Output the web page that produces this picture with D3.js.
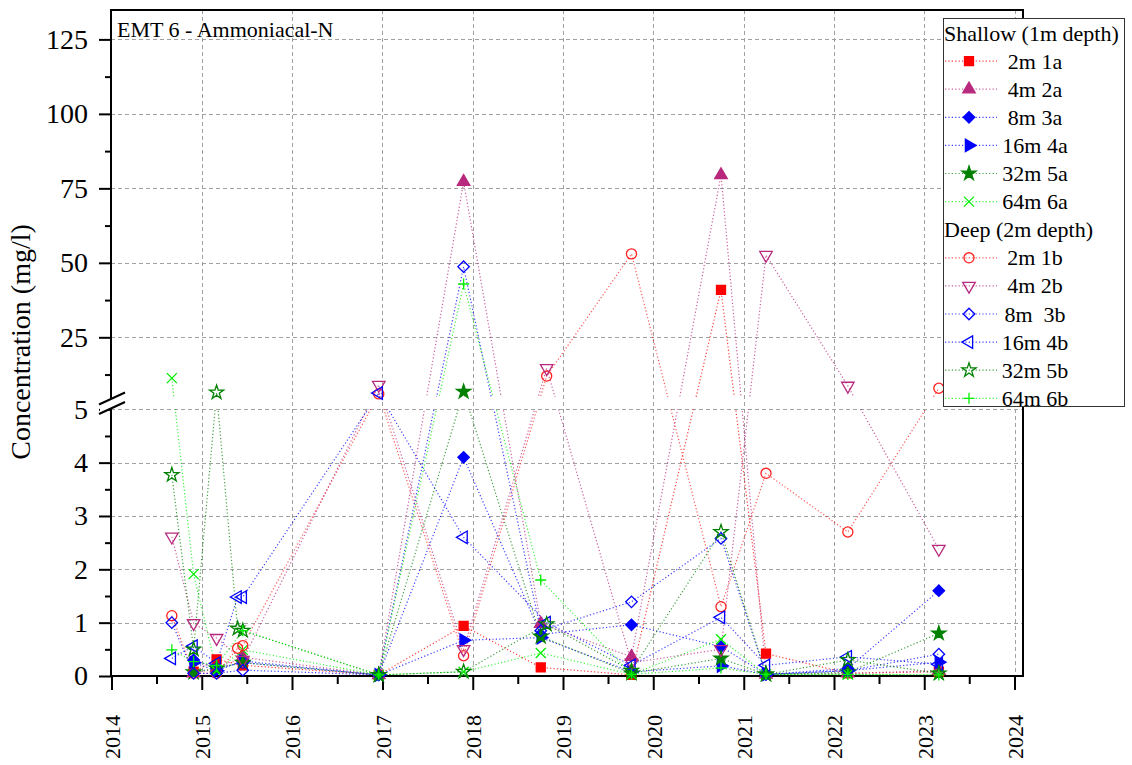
<!DOCTYPE html>
<html><head><meta charset="utf-8">
<script src="https://cdn.jsdelivr.net/npm/d3@7"></script>
<style>body{margin:0;background:#fff}svg{display:block;font-family:"Liberation Serif","Times New Roman",serif}</style>
</head><body><svg id="c" width="1132" height="765"></svg>
<script>
// ---- data ----
const sampleDates = ["2014-09-02","2014-11-29","2015-03-02","2015-05-26","2015-06-16","2016-12-17","2017-11-25","2018-10-03","2018-10-27","2019-10-05","2020-10-01","2021-04-01","2022-02-26","2023-03-01"];
const s1a = [null,0.08,0.31,null,0.2,0.02,0.94,0.16,null,0.02,40.9,0.42,0.05,0.08];
const s2a = [null,0.05,0.15,null,0.35,0.02,77.2,0.98,null,0.36,79.5,0.03,0.05,0.1];
const s3a = [null,0.3,0.15,null,0.25,0.02,4.1,0.78,null,0.96,0.55,0.03,0.14,1.6];
const s4a = [null,0.25,0.1,null,0.28,0.02,0.67,0.72,null,0.08,0.19,0.03,0.1,0.26];
const s5a = [null,0.07,0.14,null,0.25,0.02,6.75,0.74,null,0.05,0.33,0.03,0.07,0.8];
const s6a = [11.3,1.91,0.1,null,0.49,0.02,0.08,0.43,null,0.03,0.69,0.03,0.03,0.02];
const s1b = [1.13,0.05,0.05,0.52,0.57,6.0,0.38,null,12.0,53.0,1.3,3.8,2.7,7.9];
const s2b = [2.61,0.99,0.71,null,0.3,9.0,0.5,null,14.6,0.25,0.5,52.6,8.7,2.38];
const s3b = [1.0,0.05,0.05,null,0.11,0.02,48.7,0.85,null,1.39,2.58,0.03,0.1,0.41];
const s4b = [0.33,0.56,0.24,1.48,1.48,6.3,2.6,null,1.0,0.2,1.1,0.2,0.36,0.22];
const s5b = [3.77,0.5,6.5,0.89,0.85,0.02,0.08,null,0.97,0.1,2.7,0.03,0.3,0.05];
const s6b = [0.49,0.27,0.2,null,0.85,0.02,42.9,1.8,null,0.03,0.15,0.03,0.03,0.02];
const seriesNames = ["2m 1a","4m 2a","8m 3a","16m 4a","32m 5a","64m 6a","2m 1b","4m 2b","8m  3b","16m 4b","32m 5b","64m 6b"];
const yearTicks = [2014,2015,2016,2017,2018,2019,2020,2021,2022,2023,2024];
const yLowTicks = [0,1,2,3,4,5];
const yHighTicks = [25,50,75,100,125];
const titleText = "EMT 6 - Ammoniacal-N";
const yTitle = "Concentration (mg/l)";
const legendHeaders = ["Shallow (1m depth)","Deep (2m depth)"];

// ---- styles ----
const FONT = "'Liberation Serif','Times New Roman',serif";
const MAG = "#b8297e";
const styles = [
  {c:"#ff0000",s:"square",f:true},{c:MAG,s:"triUp",f:true},{c:"#0000ff",s:"diamond",f:true},
  {c:"#0000ff",s:"triRight",f:true},{c:"#008000",s:"star",f:true},{c:"#00ee00",s:"x",f:false},
  {c:"#ff2020",s:"circle",f:false},{c:MAG,s:"triDown",f:false},{c:"#0000ff",s:"diamond",f:false},
  {c:"#0000ff",s:"triLeft",f:false},{c:"#008000",s:"star",f:false},{c:"#00ee00",s:"plus",f:false}
];
const allValues = [s1a,s2a,s3a,s4a,s5a,s6a,s1b,s2b,s3b,s4b,s5b,s6b];

const svg = d3.select("#c");
const parse = d3.timeParse("%Y-%m-%d");
const dates = sampleDates.map(parse);
const L=111, R=1023, T=10, B=676;
const x = d3.scaleTime().domain([new Date(2014,0,1), new Date(2024,0,1)]).range([111.5,1014.5]);
const yLow = d3.scaleLinear().domain([0,5]).range([676,409.3]);
const yHigh = d3.scaleLinear().domain([5,135]).range([396.9,9.6]);
const y = v => v <= 5 ? yLow(v) : yHigh(v);

// clip for lines: two panels
const defs = svg.append("defs");
const cp = defs.append("clipPath").attr("id","panels");
cp.append("rect").attr("x",L).attr("y",yLow(5)).attr("width",R-L).attr("height",B-yLow(5));
cp.append("rect").attr("x",L).attr("y",T).attr("width",R-L).attr("height",yHigh(5)-T);

// gridlines
const grid = svg.append("g").attr("stroke","#a0a0a0").attr("stroke-width",1).attr("stroke-dasharray","4,3");
yearTicks.slice(1).forEach(yr=>{const xx=Math.round(x(new Date(yr,0,1)))+0.5;
  grid.append("line").attr("x1",xx).attr("x2",xx).attr("y1",T).attr("y2",B);});
yLowTicks.slice(1).forEach(v=>{const yy=Math.round(yLow(v))+0.5;
  grid.append("line").attr("x1",L).attr("x2",R).attr("y1",yy).attr("y2",yy);});
yHighTicks.forEach(v=>{const yy=Math.round(yHigh(v))+0.5;
  grid.append("line").attr("x1",L).attr("x2",R).attr("y1",yy).attr("y2",yy);});

// lines
const lineGen = d3.line().x(d=>x(d.d)).y(d=>y(d.v));
const linesG = svg.append("g").attr("clip-path","url(#panels)");
allValues.forEach((vals,i)=>{
  const pts = vals.map((v,j)=>({d:dates[j],v})).filter(p=>p.v!=null);
  linesG.append("path").attr("d",lineGen(pts)).attr("fill","none")
    .attr("stroke",styles[i].c).attr("stroke-width",1.2).attr("stroke-dasharray","1.2,2.2").attr("opacity",0.75);
});

// axes
const ax = svg.append("g");
const xMajor = d3.axisBottom(x).tickValues(yearTicks.map(yr=>new Date(yr,0,1))).tickSize(14).tickFormat(d3.timeFormat("%Y"));
const xg = ax.append("g").attr("transform",`translate(0,${B})`).call(xMajor);
xg.select(".domain").remove();
xg.selectAll("line").attr("stroke","#000").attr("stroke-width",2);
xg.selectAll("text").attr("transform","rotate(-90)").attr("x",-39).attr("y",0).attr("dy","0.36em")
  .attr("text-anchor","end").attr("font-size",22).style("font-family",FONT).attr("fill","#000");
const xMinor = d3.axisBottom(x).tickValues(yearTicks.slice(0,-1).map(yr=>new Date(yr,6,2))).tickSize(8).tickFormat("");
const xm = ax.append("g").attr("transform",`translate(0,${B})`).call(xMinor);
xm.select(".domain").remove(); xm.selectAll("line").attr("stroke","#000").attr("stroke-width",2);

function yAxis(scale, major, minor){
  const g1 = ax.append("g").attr("transform",`translate(${L},0)`)
    .call(d3.axisLeft(scale).tickValues(major).tickSize(12).tickPadding(11).tickFormat(d3.format("d")));
  g1.select(".domain").remove();
  g1.selectAll("line").attr("stroke","#000").attr("stroke-width",2);
  g1.selectAll("text").attr("font-size",28).style("font-family",FONT).attr("fill","#000");
  const g2 = ax.append("g").attr("transform",`translate(${L},0)`).call(d3.axisLeft(scale).tickValues(minor).tickSize(6).tickFormat(""));
  g2.select(".domain").remove(); g2.selectAll("line").attr("stroke","#000").attr("stroke-width",2);
}
yAxis(yLow, yLowTicks, [0.5,1.5,2.5,3.5,4.5]);
yAxis(yHigh, yHighTicks, [12.5,37.5,62.5,87.5,112.5]);

// frame
svg.append("rect").attr("x",L).attr("y",T).attr("width",R-L).attr("height",B-T)
  .attr("fill","none").attr("stroke","#000").attr("stroke-width",2);

// markers
function shapePath(s){
  switch(s){
    case "square": return {p:d3.symbol(d3.symbolSquare,81)(), r:0};
    case "triUp": return {p:d3.symbol(d3.symbolTriangle,68)(), r:0};
    case "triDown": return {p:d3.symbol(d3.symbolTriangle,68)(), r:180};
    case "triRight": return {p:d3.symbol(d3.symbolTriangle,68)(), r:90};
    case "triLeft": return {p:d3.symbol(d3.symbolTriangle,68)(), r:-90};
    case "diamond": return {p:d3.symbol(d3.symbolSquare,66)(), r:45};
    case "star": return {p:d3.symbol(d3.symbolStar,62)(), r:0};
    case "circle": return {p:d3.symbol(d3.symbolCircle,80)(), r:0};
    case "x": return {p:"M-5,-5L5,5M-5,5L5,-5", r:0};
    case "plus": return {p:"M-5.5,0L5.5,0M0,-5.5L0,5.5", r:0};
  }
}
function drawMarker(g, st, cx, cy){
  const sp = shapePath(st.s);
  g.append("path").attr("d",sp.p).attr("transform",`translate(${cx},${cy}) rotate(${sp.r})`)
    .attr("fill", st.f ? st.c : "none").attr("stroke",st.c).attr("stroke-width",1.3);
}
const mk = svg.append("g");
allValues.forEach((vals,i)=>{
  vals.forEach((v,j)=>{ if(v!=null) drawMarker(mk, styles[i], x(dates[j]), y(v)); });
});

// axis break
const brk = svg.append("g");
brk.append("path").attr("d","M100,404L124,393L124,403L100,414Z").attr("fill","#fff");
brk.append("path").attr("d","M99,404.5L125,392.5M99,414L125,402").attr("stroke","#000").attr("stroke-width",2);

// titles
svg.append("text").attr("x",117).attr("y",37).attr("font-size",22).style("font-family",FONT).text(titleText);
svg.append("text").attr("transform","translate(30,342) rotate(-90)").attr("text-anchor","middle")
  .attr("font-size",28).style("font-family",FONT).text(yTitle);

// legend
const lg = svg.append("g");
lg.append("rect").attr("x",943.5).attr("y",18.5).attr("width",181).attr("height",388).attr("fill","#fff").attr("stroke","#333").attr("stroke-width",1);
const rowY = k => 33 + k*28.1;
lg.append("text").attr("x",944).attr("y",rowY(0)+7.5).attr("font-size",22).style("font-family",FONT).text(legendHeaders[0]);
lg.append("text").attr("x",944).attr("y",rowY(7)+7.5).attr("font-size",22).style("font-family",FONT).text(legendHeaders[1]);
seriesNames.forEach((nm,i)=>{
  const k = i<6 ? i+1 : i+2;
  const cy = rowY(k);
  lg.append("line").attr("x1",945).attr("x2",997).attr("y1",cy).attr("y2",cy)
    .attr("stroke",styles[i].c).attr("stroke-width",1.2).attr("stroke-dasharray","1.2,2.2").attr("opacity",0.75);
  drawMarker(lg, styles[i], 969, cy);
  lg.append("text").attr("x",1035).attr("y",cy+7.5).attr("text-anchor","middle").attr("font-size",22)
    .style("font-family",FONT).style("white-space","pre").text(nm);
});
</script></body></html>
